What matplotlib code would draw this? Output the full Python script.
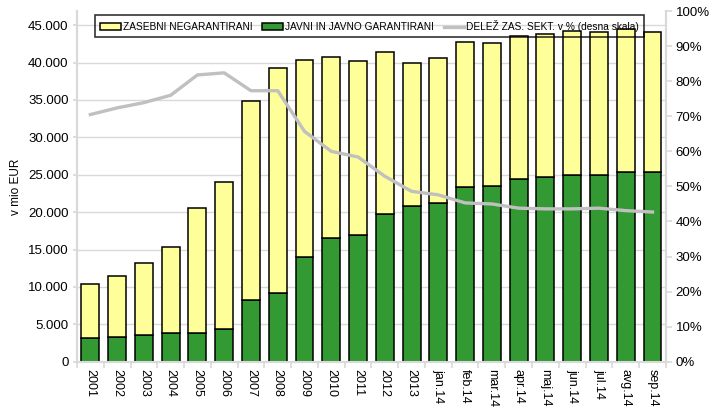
import matplotlib
matplotlib.use("Agg")
import matplotlib.pyplot as plt
import numpy as np
from matplotlib.ticker import FuncFormatter, FixedLocator

plt.rcParams['font.family'] = ['Liberation Sans', 'DejaVu Sans']

labels = ['2001', '2002', '2003', '2004', '2005', '2006', '2007', '2008', '2009',
          '2010', '2011', '2012', '2013', 'jan.14', 'feb.14', 'mar.14', 'apr.14',
          'maj.14', 'jun.14', 'jul.14', 'avg.14', 'sep.14']
# skupni dolg in javni + javno garantirani del (mio EUR)
skupaj = [10400, 11520, 13260, 15400, 20540, 24040, 34920, 39330, 40360, 40770,
          40140, 41390, 39960, 40630, 42720, 42640, 43530, 43750, 44160, 44060,
          44420, 44060]
javni = [3130, 3350, 3580, 3800, 3800, 4340, 8260, 9160, 14060, 16520, 16970,
         19780, 20760, 21210, 23360, 23530, 24470, 24700, 25000, 24910, 25370, 25370]
# delez zasebnega sektorja v %
delez = [70.5, 72.4, 73.9, 76.0, 81.8, 82.4, 77.3, 77.3, 65.7, 60.0, 58.4, 52.9,
         48.6, 47.6, 45.3, 45.0, 43.8, 43.6, 43.6, 43.8, 43.1, 42.7]

zasebni = [s - j for s, j in zip(skupaj, javni)]
x = np.arange(len(labels))
grey = '#d9d9d9'

fig = plt.figure(figsize=(7.16, 4.12), dpi=100)
ax = fig.add_axes([0.1075, 0.122, 0.8225, 0.851])
ax2 = ax.twinx()

b1 = ax.bar(x, javni, width=0.67, color='#339933', edgecolor='black', linewidth=1.1,
            label='JAVNI IN JAVNO GARANTIRANI', zorder=3)
b2 = ax.bar(x, zasebni, bottom=javni, width=0.67, color='#ffff99', edgecolor='black',
            linewidth=1.1, label='ZASEBNI NEGARANTIRANI', zorder=3)
l1, = ax2.plot(x, delez, color='#c0c0c0', linewidth=2.4, solid_joinstyle='round',
               label='DELEŽ ZAS. SEKT. v % (desna skala)')

ax.set_xlim(-0.5, len(labels) - 0.5)
ax.set_ylim(0, 46875)
ax2.set_ylim(0, 100)

ax.set_yticks(np.arange(0, 45001, 5000))
ax.yaxis.set_major_formatter(FuncFormatter(lambda v, p: f'{int(v):,}'.replace(',', '.')))
ax2.set_yticks(np.arange(0, 101, 10))
ax2.yaxis.set_major_formatter(FuncFormatter(lambda v, p: f'{int(v)}%'))

ax.set_xticks(x)
ax.set_xticklabels(labels, rotation=270, fontsize=9)
ax.xaxis.set_minor_locator(FixedLocator(np.arange(-0.5, len(labels), 1)))
ax.tick_params(axis='x', which='major', length=0, pad=5)
ax.tick_params(axis='x', which='minor', length=4, width=1.2, color=grey)
ax.tick_params(axis='y', length=3, width=1.2, color=grey, labelsize=9.5, pad=3)
ax2.tick_params(axis='y', length=4, width=1.2, color=grey, labelsize=9.5, pad=3)

ax.grid(axis='y', color=grey, linewidth=1, zorder=0)
ax.set_axisbelow(True)
for a in (ax, ax2):
    a.spines['top'].set_visible(False)
    for s in ('left', 'right', 'bottom'):
        a.spines[s].set_color(grey)
        a.spines[s].set_linewidth(1.5)

ax.set_ylabel('v mio EUR', fontsize=8.5, labelpad=4)

leg = ax2.legend([b2, b1, l1], [b2.get_label(), b1.get_label(), l1.get_label()],
                 loc='upper left', bbox_to_anchor=(0.031, 0.989),
                 ncol=3, fontsize=7.3, frameon=True, fancybox=False,
                 borderaxespad=0, handlelength=2.0, handleheight=0.6,
                 handletextpad=0.2, borderpad=0.5, columnspacing=1.0)
leg.get_frame().set_edgecolor('black')
leg.get_frame().set_linewidth(1.2)
leg.get_frame().set_facecolor('none')

fig.savefig('out.png', dpi=100)
